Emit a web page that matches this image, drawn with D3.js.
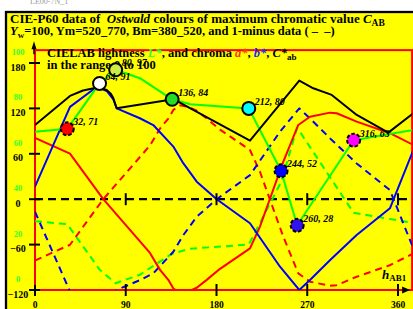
<!DOCTYPE html>
<html><head><meta charset="utf-8">
<script src="https://cdn.jsdelivr.net/npm/d3@7"></script>
<style>
body{margin:0;background:#fff}
svg{display:block}
text{font-family:"Liberation Serif","Times New Roman",serif;font-weight:bold}
</style>
</head><body>
<svg id="c" width="413" height="309"></svg>
<script>
// ---- data ----
const xTicks = [0, 90, 180, 270, 360];
const yTicks = [180, 120, 60, 0, -60, -120];
const lTicks = [100, 80, 60, 40, 20, 0];

// C*ab (black solid)
const hueC   = [0, 34.7, 47.6, 59.5, 64.5, 71.1, 75.4, 77.7, 81, 137.2, 213.2, 262.1, 276, 294.3, 319.1, 350.4, 375.2];
const chromaC= [98, 136.5, 143.7, 147, 147, 144.4, 139.1, 133.4, 120.2, 132.1, 77.4, 156.7, 146.6, 137.8, 111.4, 88, 113.6];

// a* (red solid) and 1-minus a* (red dashed)
const hueA   = [0, 34.7, 67.7, 114, 124, 132.2, 137.2, 144, 152, 160.4, 170.3, 183.5, 213.2, 223.1, 239.7, 246.3, 261.1, 272.7, 292.6, 299.2, 319, 352, 375.2];
const aStar  = [81, 60.2, 0, -71, -93.4, -106.6, -118, -124, -122, -117, -106.6, -92, -65, -36.3, 25.4, 49.7, 98.1, 109, 114.4, 113.6, 102.5, 87.2, 71.7];
const aMinus = [-81, -60.2, 0, 71, 93.4, 106.6, 118, 124, 122, 117, 106.6, 92, 65, 36.3, -25.4, -49.7, -98.1, -109, -114.4, -113.6, -102.5, -87.2, -71.7];

// b* (blue solid) and 1-minus b* (blue dashed)
const hueB   = [0, 34.7, 57.8, 64.5, 71.1, 77.7, 81, 104, 117.3, 137.2, 147, 160.4, 180.2, 213.2, 243, 262.1, 272.7, 293, 319, 352, 375.2];
const bStar  = [16.6, 122, 145, 147, 143, 132, 120, 107, 98, 69.5, 47.6, 23.2, 0, -31.8, -89.2, -120, -106.7, -80, -47.3, -12, 65];
const bMinus = [-16.6, -122, -145, -147, -143, -132, -120, -107, -98, -69.5, -47.6, -23.2, 0, 31.8, 89.2, 120, 106.7, 80, 47.3, 12, -65];

// L* (green solid) and 1-minus L* (green dashed), L* range 0..100
const hueL   = [0, 32, 64, 80, 104, 136, 154, 212, 244, 260, 316, 375.2];
const lStar  = [69.7, 71, 91, 97, 93.3, 84, 81.8, 80, 52.5, 28.5, 66, 70.5];
const lMinus = [30.3, 29, 9, 3, 6.7, 16, 18.2, 20, 47.5, 71.5, 34, 29.5];

// marked colours
const markHue  = [32, 64, 80, 136, 212, 244, 260, 316];
const markL    = [71, 91, 97, 84, 80, 52.5, 28.5, 66];
const markText = ["32, 71", "64, 91", "80, 97", "136, 84", "212, 80", "244, 52", "260, 28", "316, 63"];
const markFill = ["#ff0000", "#ffffff", "#ccee44", "#22dd22", "#00ffff", "#0000ff", "#3311ee", "#ff00ff"];
const markDash = [true, false, false, false, false, true, true, true];

// ---- drawing ----
const svg = d3.select("#c");
const x = d3.scaleLinear().domain([0, 360]).range([35, 398]);
const y = d3.scaleLinear().domain([-120, 180]).range([290, 63]);
const yL = d3.scaleLinear().domain([0, 100]).range([y(-120), y(180)]);
const frameHue = 374, frameTop = 197;

svg.append("text").attr("x", 30).attr("y", 4).attr("font-size", 8)
  .attr("fill", "#999").style("font-weight", "normal").text("LE00-7N_1");

svg.append("rect").attr("x", 6).attr("y", 12).attr("width", 420).attr("height", 310)
  .attr("fill", "#ffff00").attr("stroke", "#000").attr("stroke-width", 2.3);

// title
const t1 = svg.append("text").attr("x", 10).attr("y", 23).attr("font-size", 13);
t1.append("tspan").text("CIE-P60 data of\u00a0 ");
t1.append("tspan").attr("font-style", "italic").text("Ostwald");
t1.append("tspan").text(" colours of maximum chromatic value ");
t1.append("tspan").attr("font-style", "italic").text("C");
t1.append("tspan").attr("font-size", 9.5).attr("dy", 3).text("AB");
const t2 = svg.append("text").attr("x", 10).attr("y", 35).attr("font-size", 12.5);
t2.append("tspan").attr("font-style", "italic").text("Y");
t2.append("tspan").attr("font-size", 9).attr("dy", 3).text("w");
t2.append("tspan").attr("dy", -3).text("=100, Ym=520_770, Bm=380_520, and 1-minus data ( \u2013\u00a0 \u2013)");

// axis labels
svg.selectAll(".yl").data(yTicks).join("text")
  .attr("x", 18).attr("y", d => y(d) + 7.5).attr("text-anchor", "middle")
  .attr("font-size", 10).text(d => d < 0 ? "\u2212" + (-d) : d);
svg.selectAll(".ll").data(lTicks).join("text")
  .attr("x", 18).attr("y", d => yL(d) - 8).attr("text-anchor", "middle")
  .attr("font-size", 8.5).attr("fill", "#33ff33").text(d => d);
svg.selectAll(".xl").data(xTicks).join("text")
  .attr("x", d => x(d)).attr("y", 307.5).attr("text-anchor", "middle")
  .attr("font-size", 9.5).text(d => d);

// frame
svg.append("rect").attr("x", x(0)).attr("y", y(frameTop))
  .attr("width", x(frameHue) - x(0)).attr("height", y(-120) - y(frameTop))
  .attr("fill", "none").attr("stroke", "#ff0000").attr("stroke-width", 2);

svg.append("defs").append("clipPath").attr("id", "clip").append("rect")
  .attr("x", x(0)).attr("y", y(frameTop))
  .attr("width", x(frameHue) - x(0)).attr("height", y(-120) - y(frameTop));

// legend text
const lg1 = svg.append("text").attr("x", 47).attr("y", 57).attr("font-size", 12.5);
lg1.append("tspan").text("CIELAB lightness ");
lg1.append("tspan").attr("font-style", "italic").attr("fill", "#33ff33").text("L*");
lg1.append("tspan").text(", and chroma ");
lg1.append("tspan").attr("font-style", "italic").attr("fill", "#ff3300").text("a*");
lg1.append("tspan").text(", ");
lg1.append("tspan").attr("font-style", "italic").attr("fill", "#2222ff").text("b*");
lg1.append("tspan").text(", ");
lg1.append("tspan").attr("font-style", "italic").text("C*");
lg1.append("tspan").attr("font-size", 9).attr("dy", 3).text("ab");
svg.append("text").attr("x", 47).attr("y", 68.5).attr("font-size", 12.5).text("in the range 0 to 100");

// zero dashed line
svg.append("line").attr("x1", x(0)).attr("x2", x(frameHue)).attr("y1", y(0)).attr("y2", y(0))
  .attr("stroke", "#000").attr("stroke-width", 2.3).attr("stroke-dasharray", "8,5");

// curves
const g = svg.append("g").attr("clip-path", "url(#clip)");
const lineV = (hs, vs) => d3.line().x((d, i) => x(hs[i])).y(d => y(d))(vs);
const lineL = (hs, vs) => d3.line().x((d, i) => x(hs[i])).y(d => yL(d))(vs);
const curves = [
  {d: lineL(hueL, lMinus), c: "#00ff00", dash: "7,5"},
  {d: lineV(hueA, aMinus), c: "#ff0000", dash: "7,5"},
  {d: lineV(hueB, bMinus), c: "#0000ff", dash: "7,5"},
  {d: lineV(hueA, aStar), c: "#ff0000", dash: null},
  {d: lineV(hueB, bStar), c: "#0000ff", dash: null},
  {d: lineL(hueL, lStar), c: "#00ff00", dash: null},
  {d: lineV(hueC, chromaC), c: "#000000", dash: null}
];
curves.forEach(k => {
  g.append("path").attr("d", k.d).attr("fill", "none").attr("stroke", k.c)
    .attr("stroke-width", 2).attr("stroke-linejoin", "round")
    .attr("stroke-dasharray", k.dash);
});

// ticks
svg.selectAll(".yt").data(yTicks).join("line")
  .attr("x1", x(0) - 6).attr("x2", x(0) + 5).attr("y1", d => y(d)).attr("y2", d => y(d))
  .attr("stroke", "#000").attr("stroke-width", 2);
[0, -120].forEach(v => {
  svg.selectAll(null).data(xTicks.slice(1)).join("line")
    .attr("x1", d => x(d)).attr("x2", d => x(d)).attr("y1", y(v) - 6).attr("y2", y(v) + 6)
    .attr("stroke", "#000").attr("stroke-width", 2);
});
svg.append("line").attr("x1", x(0)).attr("x2", x(0)).attr("y1", y(-120) - 5).attr("y2", y(-120) + 6)
  .attr("stroke", "#000").attr("stroke-width", 2);
// arrows
svg.append("path").attr("d", `M${x(frameHue) - 10},${y(-120) - 3.5}L${x(frameHue) - 2},${y(-120)}L${x(frameHue) - 10},${y(-120) + 3.5}Z`).attr("fill", "#000");
svg.append("path").attr("d", `M${x(0) - 3.5},${y(frameTop) - 1}L${x(0) - 1},${y(frameTop) - 9}L${x(0) + 1.5},${y(frameTop) - 1}Z`).attr("fill", "#000");
svg.append("line").attr("x1", x(0) - 1).attr("x2", x(0) - 1).attr("y1", y(frameTop) - 3).attr("y2", y(frameTop) + 4)
  .attr("stroke", "#000").attr("stroke-width", 1.5);

// h_AB1 label
const hl = svg.append("text").attr("x", 382).attr("y", 279).attr("font-size", 13);
hl.append("tspan").attr("font-style", "italic").text("h");
hl.append("tspan").attr("font-size", 9).attr("dy", 2).text("AB1");

// markers
markHue.forEach((h, i) => {
  svg.append("circle").attr("cx", x(h)).attr("cy", yL(markL[i])).attr("r", 6.5)
    .attr("fill", markFill[i]).attr("stroke", "#000").attr("stroke-width", 2)
    .attr("stroke-dasharray", markDash[i] ? "3.5,2" : null);
});
markHue.forEach((h, i) => {
  svg.append("text").attr("x", x(h) + 6).attr("y", yL(markL[i]) - 3.5)
    .attr("font-size", 10).attr("font-style", "italic").text(markText[i]);
});
</script>
</body></html>
